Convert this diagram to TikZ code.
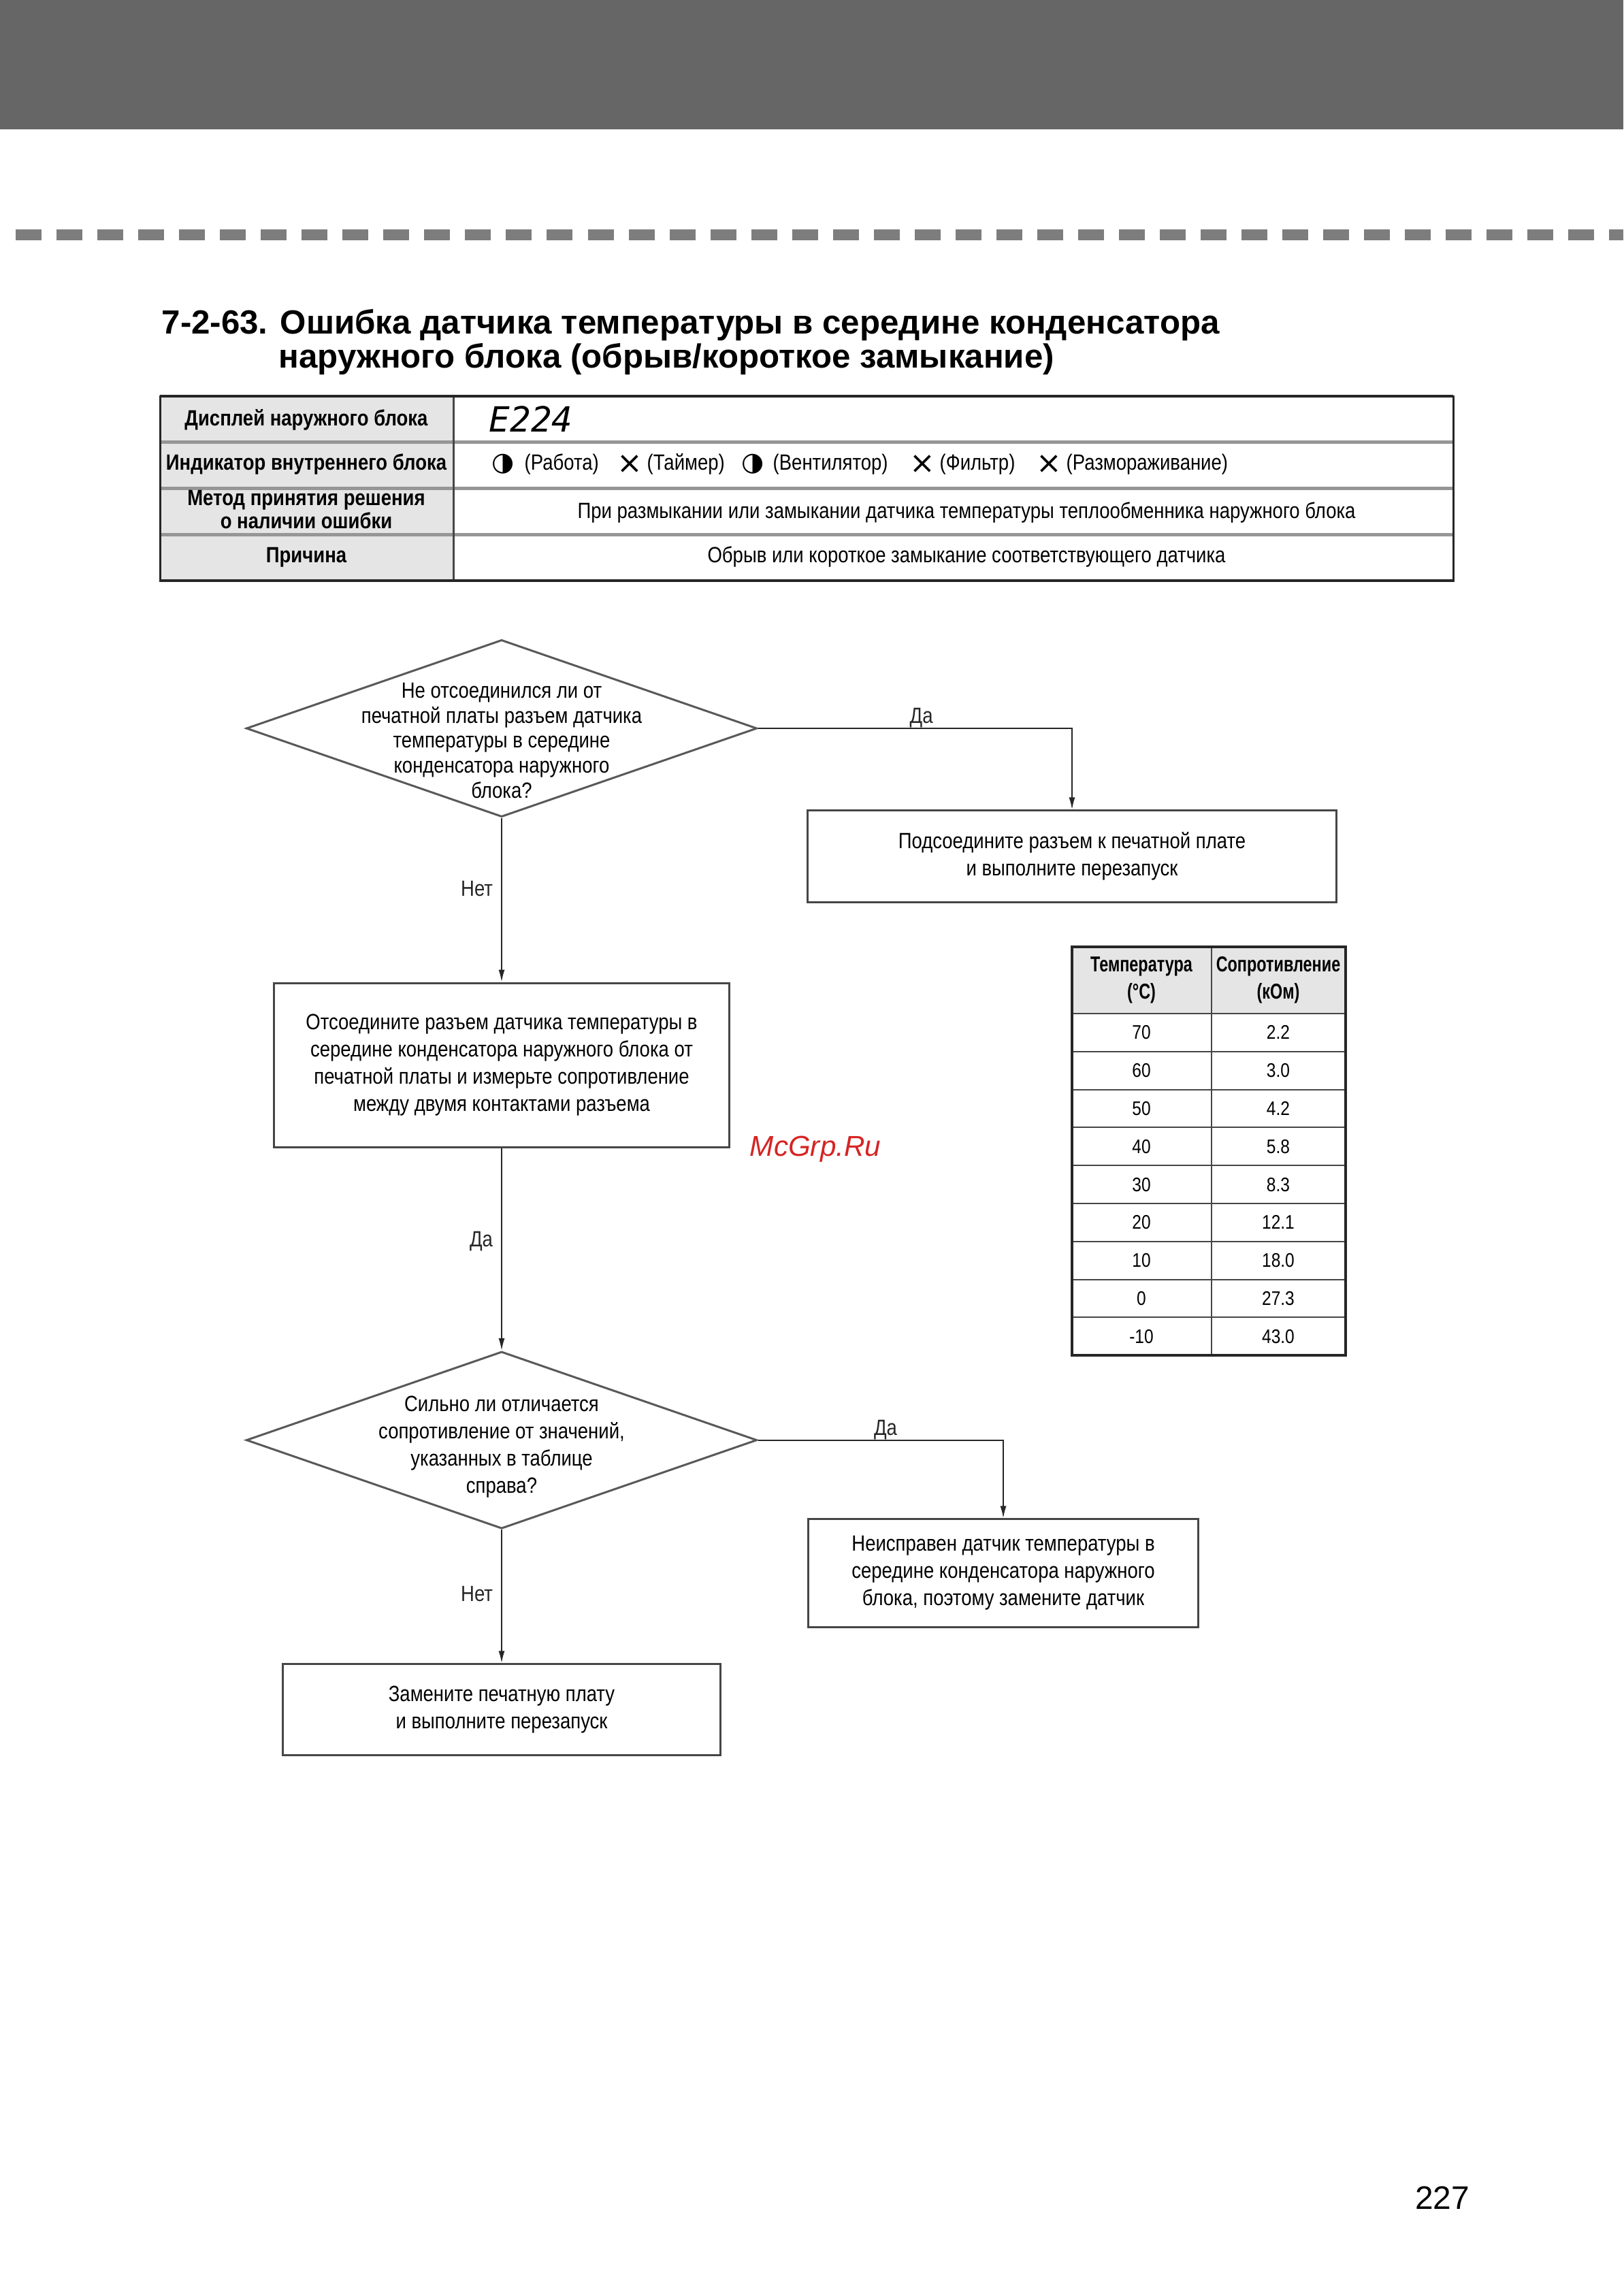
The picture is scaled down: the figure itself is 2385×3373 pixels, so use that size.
\documentclass[tikz,border=0pt]{standalone}
\usepackage{fontspec}
\setmainfont{Liberation Sans}
\newfontfamily\narrowfont{Liberation Sans}[FakeStretch=0.85]
\newfontfamily\tightfont{Liberation Sans}[FakeStretch=0.74]
\newfontfamily\symfont{DejaVu Sans}
\newfontfamily\lcdfont{DejaVu Sans Mono}
\usetikzlibrary{arrows.meta,positioning,shapes.geometric}
\definecolor{bandgray}{RGB}{102,102,102}
\definecolor{dashgray}{RGB}{125,125,125}
\definecolor{cellgray}{RGB}{229,229,229}
\definecolor{rulegray}{RGB}{150,150,150}
\definecolor{linegray}{RGB}{70,70,70}
\definecolor{wmred}{RGB}{214,36,36}
\newcommand\fcfont{\narrowfont\fontsize{9.2}{11.4}\selectfont}
\newcommand\hdfont{\narrowfont\bfseries\fontsize{9.2}{8.3}\selectfont}
\newcommand\tbfont{\narrowfont\fontsize{8.2}{11.4}\selectfont}
\newcommand\thfont{\tightfont\bfseries\fontsize{9}{11.3}\selectfont}

\begin{document}
\begin{tikzpicture}[x=0.01cm, y=-0.01cm,
  proc/.style={draw=linegray, line width=0.03cm, align=center, inner sep=0pt, font=\fcfont},
  decision/.style={diamond, draw=black!65, line width=0.03cm, inner sep=0pt, minimum width=7.5cm, minimum height=2.6cm},
  qtext/.style={align=center, font=\fcfont, inner sep=0pt},
  arr/.style={-{Latex[length=0.18cm,width=0.09cm]}, line width=0.02cm, black!85},
  lbl/.style={font=\fcfont, inner sep=0.12cm},
  headlab/.style={font=\hdfont, align=center, inner sep=0pt},
  valtext/.style={font=\fcfont, inner sep=0pt},
  symtext/.style={inner sep=0pt},
  thead/.style={font=\thfont, align=center, inner sep=0pt},
  tval/.style={font=\tbfont, inner sep=0pt},
  rowrule/.style={rulegray, line width=0.05cm},
  tablerule/.style={linegray, line width=0.02cm}
]
\useasboundingbox (0,0) rectangle (2385,3373);
\fill[bandgray] (0,0) rectangle (2385,190);
\draw[dashgray, line width=0.15cm, dash pattern=on 0.38cm off 0.22cm] (23,345) -- (2385,345);

\node[anchor=base west, inner sep=0pt, font=\bfseries\fontsize{14}{14}\selectfont] (title1) at (237,490) {7-2-63. Ошибка датчика температуры в середине конденсатора};
\node[anchor=base west, inner sep=0pt, font=\bfseries\fontsize{14}{14}\selectfont] (title2) at (409,540) {наружного блока (обрыв/короткое замыкание)};

\fill[cellgray] (235,582) rectangle (666,853);
\foreach \yy in {649,717,785} \draw[rowrule] (235,\yy) -- (2135,\yy);
\draw[tablerule, line width=0.03cm] (666,582) -- (666,853);
\draw[black!85, line width=0.03cm] (235,582) rectangle (2135,853);
\draw[black!85, line width=0.045cm] (235,582) -- (2135,582) (235,853) -- (2135,853);
\node[headlab, anchor=base] (disp) at (450,625) {Дисплей наружного блока};
\node[headlab, anchor=base] (indic) at (450,690) {Индикатор внутреннего блока};
\node[headlab] (method) at (450,749) {Метод принятия решения\\о наличии ошибки};
\node[headlab, anchor=base] (cause) at (450,826) {Причина};
\node[anchor=base west, inner sep=0pt, font=\lcdfont\itshape\fontsize{14.5}{14.5}\selectfont] (code) at (718,634) {E224};
\foreach \sx/\sym/\sz/\lx/\lab [count=\i] in {739/◑/10.8/770/{(Работа)}, 925/×/12.8/950/{(Таймер)}, 1106/◑/10.8/1135/{(Вентилятор)}, 1355/×/12.8/1380/{(Фильтр)}, 1541/×/12.8/1566/{(Размораживание)}} {
  \node[symtext, font=\symfont\fontsize{\sz}{\sz}\selectfont] (isym\i) at (\sx,682) {\sym};
  \node[valtext, anchor=base west] (ilab\i) at (\lx,690) {\lab};
}
\node[valtext, anchor=base] (methtxt) at (1420,761) {При размыкании или замыкании датчика температуры теплообменника наружного блока};
\node[valtext, anchor=base] (causetxt) at (1420,826) {Обрыв или короткое замыкание соответствующего датчика};

\node[decision, label={[qtext, font=\narrowfont\fontsize{9.2}{10.4}\selectfont, yshift=-0.18cm]center:{Не отсоединился ли от\\печатной платы разъем датчика\\температуры в середине\\конденсатора наружного\\блока?}}] (q1) at (737,1070) {};
\node[proc, minimum width=7.76cm, minimum height=1.34cm] (fix1) at (1575,1258) {Подсоедините разъем к печатной плате\\и выполните перезапуск};
\node[proc, minimum width=6.68cm, minimum height=2.41cm, below=2.41cm of q1] (meas) {Отсоедините разъем датчика температуры в\\середине конденсатора наружного блока от\\печатной платы и измерьте сопротивление\\между двумя контактами разъема};
\node[decision, below=2.97cm of meas, label={[qtext, yshift=-0.1cm]center:{Сильно ли отличается\\сопротивление от значений,\\указанных в таблице\\справа?}}] (q2) {};
\node[proc, minimum width=5.72cm, minimum height=1.58cm] (bad) at (1474,2311) {Неисправен датчик температуры в\\середине конденсатора наружного\\блока, поэтому замените датчик};
\node[proc, minimum width=6.42cm, minimum height=1.34cm, below=1.96cm of q2] (pcb) {Замените печатную плату\\и выполните перезапуск};

\draw[arr] (q1.east) -| node[pos=0.26, above, lbl, inner sep=0pt] {Да} (fix1.north);
\draw[arr] (q1.south) -- node[pos=0.43, left, lbl] {Нет} (meas.north);
\draw[arr] (meas.south) -- node[pos=0.46, left, lbl] {Да} (q2.north);
\draw[arr] (q2.east) -| node[pos=0.26, above, lbl, inner sep=0pt] {Да} (bad.north);
\draw[arr] (q2.south) -- node[pos=0.48, left, lbl] {Нет} (pcb.north);

\fill[cellgray] (1575,1391) rectangle (1977,1489);
\node[thead] (tcol) at (1677,1440) {Температура\\(°C)};
\node[thead] (rcol) at (1878,1440) {Сопротивление\\(кОм)};
\foreach \t/\r [count=\i] in {70/2.2, 60/3.0, 50/4.2, 40/5.8, 30/8.3, 20/12.1, 10/18.0, 0/27.3, -10/43.0} {
  \node[tval] (temp\i) at (1677,{1489+55.8*\i-27.9}) {\t};
  \node[tval] (res\i) at (1878,{1489+55.8*\i-27.9}) {\r};
  \draw[tablerule] (1575,{1489+55.8*\i}) -- (1977,{1489+55.8*\i});
}
\draw[tablerule] (1575,1489) -- (1977,1489);
\draw[tablerule] (1780,1391) -- (1780,1991);
\draw[black!85, line width=0.035cm] (1575,1391) rectangle (1977,1991);

\node[font=\itshape\fontsize{12}{12}\selectfont, text=wmred, inner sep=0pt] (wm) at (1198,1688) {McGrp.Ru};
\node[anchor=base, inner sep=0pt, font=\fontsize{13.6}{13.6}\selectfont] (pageno) at (2119,3245) {227};
\end{tikzpicture}
\end{document}
